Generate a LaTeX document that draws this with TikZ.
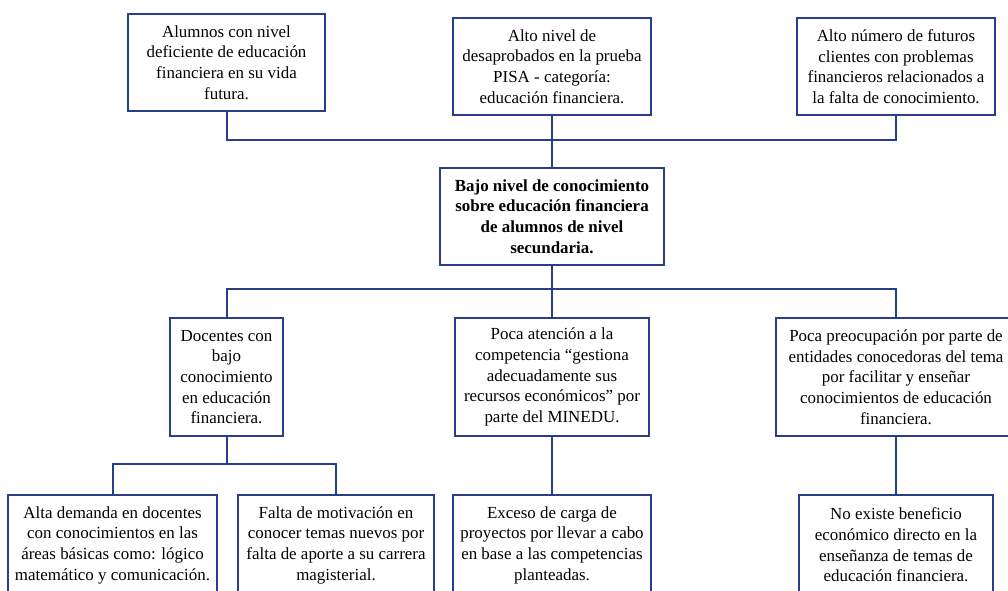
\documentclass[tikz,border=0pt]{standalone}
\usepackage{fontspec}
\setmainfont{Liberation Serif}
\usetikzlibrary{positioning}
\definecolor{navy}{RGB}{42,60,140}

\begin{document}
\begin{tikzpicture}
[x=0.75pt,y=-0.75pt,
 box/.style={shape=rectangle,draw=navy,line width=1.5pt,align=center,
   inner sep=2pt,font=\fontsize{12.7}{15.5}\selectfont},
 efecto/.style={box,minimum height=73pt},
 raiz/.style={box,minimum height=88.5pt},
 causa/.style={box,minimum height=75pt},
 link/.style={draw=navy,line width=1.5pt}]

\useasboundingbox (0,0) rectangle (1008,590);
\clip (0,0) rectangle (1008,590);

% efectos
\node (a1) [efecto,minimum width=148pt] at (226.5,62.5)
	{Alumnos con nivel\\deficiente de educación\\financiera en su vida\\futura.};
\node (a2) [efecto,minimum width=148.5pt] at (552,66.5)
	{Alto nivel de\\desaprobados en la prueba\\PISA - categoría:\\educación financiera.};
\node (a3) [efecto,minimum width=148pt] at (896,66.5)
	{Alto número de futuros\\clientes con problemas\\financieros relacionados a\\la falta de conocimiento.};

% problema central
\node (cen) [efecto,minimum width=168pt,font=\fontsize{12.7}{15.5}\selectfont\bfseries] at (552,216.5)
	{Bajo nivel de conocimiento\\sobre educación financiera\\de alumnos de nivel\\secundaria.};

% causas
\node (b1) [raiz,minimum width=85pt] at (226.5,377)
	{Docentes con\\bajo\\conocimiento\\en educación\\financiera.};
\node (b2) [raiz,minimum width=146pt] at (552,377)
	{Poca atención a la\\competencia “gestiona\\adecuadamente sus\\recursos económicos” por\\parte del MINEDU.};
\node (b3) [raiz,minimum width=180pt] at (896,377)
	{Poca preocupación por parte de\\entidades conocedoras del tema\\por facilitar y enseñar\\conocimientos de educación\\financiera.};

% subcausas
\node (c1) [causa,minimum width=157pt] at (112.5,545)
	{Alta demanda en docentes\\con conocimientos en las\\áreas básicas como: lógico\\matemático y comunicación.};
\node (c2) [causa,minimum width=147pt] at (336,545)
	{Falta de motivación en\\conocer temas nuevos por\\falta de aporte a su carrera\\magisterial.};
\node (c3) [causa,minimum width=148.5pt] at (552,545)
	{Exceso de carga de\\proyectos por llevar a cabo\\en base a las competencias\\planteadas.};
\node (c4) [causa,minimum width=146pt] at (896,545)
	{No existe beneficio\\económico directo en la\\enseñanza de temas de\\educación financiera.};

% conectores
\coordinate (bus1) at (552,140);
\coordinate (bus2) at (552,289);
\coordinate (bus3) at (226.5,464);

\draw [link] (a1.south) |- (bus1) -| (a3.south);
\draw [link] (a2.south) -- (cen.north);

\draw [link] (cen.south) -- (bus2);
\draw [link] (b1.north) |- (bus2) -| (b3.north);
\draw [link] (bus2) -- (b2.north);

\draw [link] (b1.south) -- (bus3);
\draw [link] (c1.north) |- (bus3) -| (c2.north);
\draw [link] (b2.south) -- (c3.north);
\draw [link] (b3.south) -- (c4.north);

\end{tikzpicture}
\end{document}
